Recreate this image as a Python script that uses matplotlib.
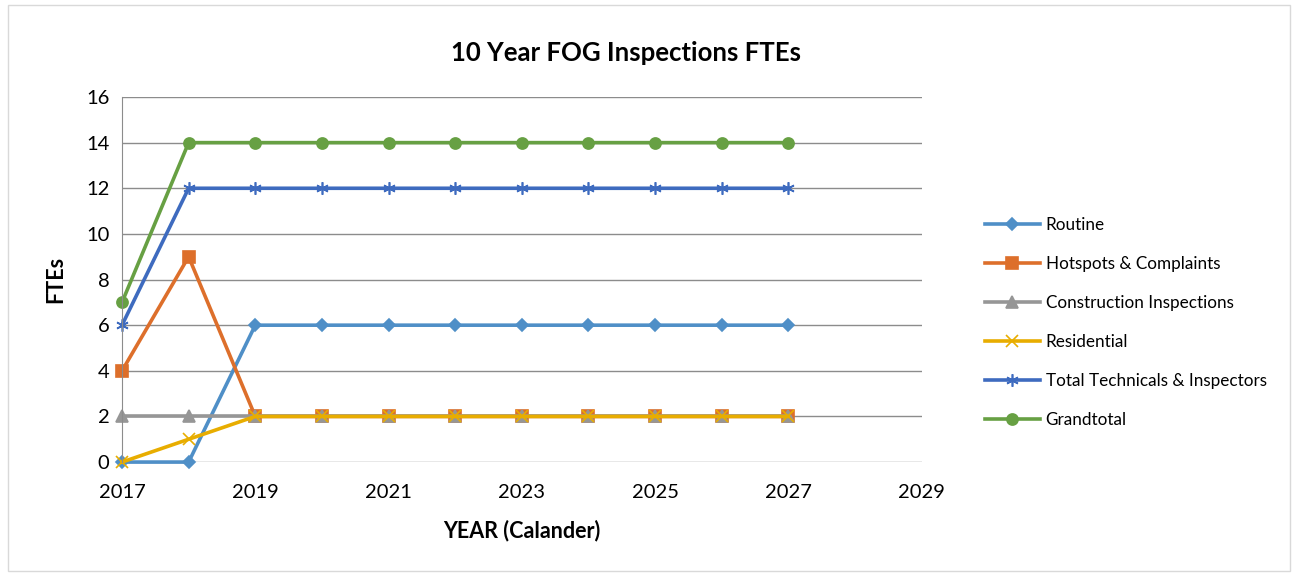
import matplotlib
matplotlib.use("Agg")
from matplotlib import pyplot as plt
from matplotlib.patches import Rectangle

years = list(range(2017, 2028))
routine = [0, 0, 6, 6, 6, 6, 6, 6, 6, 6, 6]
hotspots = [4, 9, 2, 2, 2, 2, 2, 2, 2, 2, 2]
construction = [2, 2, 2, 2, 2, 2, 2, 2, 2, 2, 2]
residential = [0, 1, 2, 2, 2, 2, 2, 2, 2, 2, 2]
total_tech = [6, 12, 12, 12, 12, 12, 12, 12, 12, 12, 12]
grandtotal = [7, 14, 14, 14, 14, 14, 14, 14, 14, 14, 14]

plt.rcParams['font.family'] = ['Lato', 'DejaVu Sans']

fig = plt.figure(figsize=(12.98, 5.74), dpi=100)
fig.patches.append(Rectangle((0.006, 0.006), 0.988, 0.985, transform=fig.transFigure,
                             fill=False, edgecolor='#d9d9d9', linewidth=1))
ax = fig.add_axes([0.094, 0.195, 0.616, 0.636])

series = [
    ("Routine", routine, '#4f8fc7', 'D', 6),
    ("Hotspots & Complaints", hotspots, '#dd6f2b', 's', 8),
    ("Construction Inspections", construction, '#969696', '^', 8),
    ("Residential", residential, '#e8ad00', 'x', 8),
    ("Total Technicals & Inspectors", total_tech, '#3e6bbf', (6, 2, 0), 9),
    ("Grandtotal", grandtotal, '#67a043', 'o', 8),
]
for name, vals, col, mk, ms in series:
    ax.plot(years, vals, color=col, linewidth=2.6, marker=mk, markersize=ms,
            markeredgecolor=col, markerfacecolor=col, markeredgewidth=1.2,
            label=name, clip_on=False)

ax.set_xlim(2017, 2029)
ax.set_ylim(0, 16)
ax.set_xticks(range(2017, 2030, 2))
ax.set_yticks(range(0, 17, 2))
ax.grid(axis='y', color='#8c8c8c', linewidth=1)
ax.set_axisbelow(True)
for s in ['top', 'right', 'bottom']:
    ax.spines[s].set_visible(False)
ax.spines['left'].set_color('#8c8c8c')
ax.tick_params(axis='x', length=0, labelsize=14.5, pad=16)
ax.tick_params(axis='y', length=0, labelsize=14.5, pad=9)

fig.text(0.482, 0.908, "10 Year FOG Inspections FTEs", fontsize=18.5,
         fontweight='bold', ha='center', va='center')
ax.set_xlabel("YEAR (Calander)", fontsize=15.5, fontweight='bold', labelpad=13)
ax.set_ylabel("FTEs", fontsize=15.5, fontweight='bold', labelpad=14)

ax.legend(loc='center left', bbox_to_anchor=(1.06, 0.382), frameon=False,
          fontsize=12.3, labelspacing=1.34, handlelength=3.2, handletextpad=0.35)

fig.savefig("out.png", dpi=100)
